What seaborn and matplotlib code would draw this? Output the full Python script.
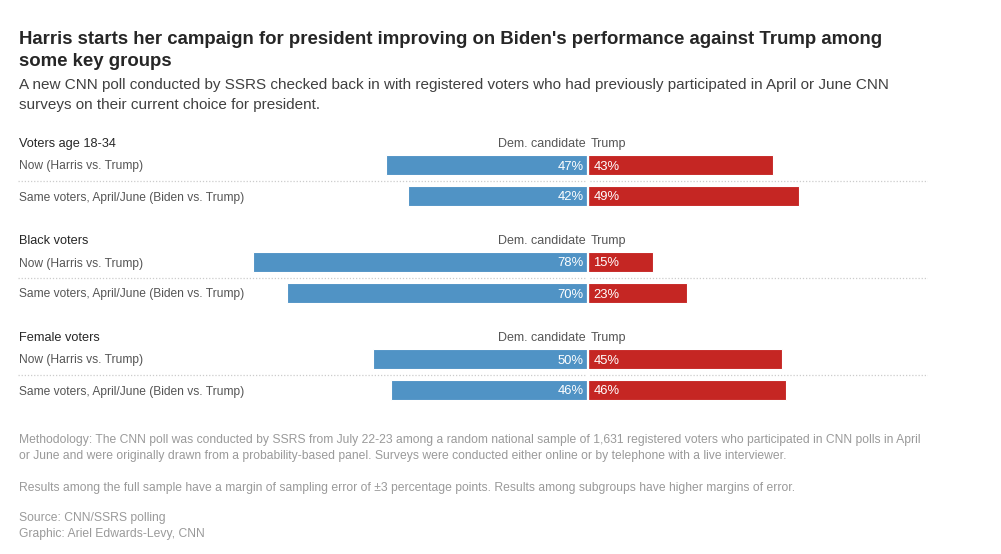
import matplotlib
matplotlib.use("Agg")
import matplotlib.pyplot as plt
import matplotlib.transforms as mtransforms
import seaborn as sns
import pandas as pd
import numpy as np

# data
groups = ["Voters age 18-34", "Black voters", "Female voters"]
rows = ["Now (Harris vs. Trump)", "Same voters, April/June (Biden vs. Trump)"]
dem = [[47, 42], [78, 70], [50, 46]]
trump = [[43, 49], [15, 23], [45, 46]]

BLUE = "#5093c5"
RED = "#c52623"
DARK = "#262626"
MID = "#555555"
LIGHT = "#9a9a9a"

sns.set_theme(style="white")
plt.rcParams["font.family"] = ["Liberation Sans", "DejaVu Sans"]

W, H = 1001, 554
fig = plt.figure(figsize=(W / 100, H / 100), dpi=100)

def fx(px):
    return px / W

def fy(py):
    return 1 - py / H

# axes placement in pixels
ax_l, ax_r, ax_t, ax_b = 18, 928, 130, 402
ax = fig.add_axes([fx(ax_l), fy(ax_b), fx(ax_r - ax_l), (ax_b - ax_t) / H])

center_px = 588.5
ppp = 4.30  # pixels per percent
ax.set_xlim(-(center_px - ax_l) / ppp, (ax_r - center_px) / ppp)
row_px = 31.0
group_gap = 97.0 / row_px
ax.set_ylim((ax_b - 165) / row_px, (ax_t - 165) / row_px)

recs = []
for gi, g in enumerate(groups):
    for ri, r in enumerate(rows):
        pos = gi * group_gap + ri
        recs.append(dict(pos=pos, value=-dem[gi][ri], side="dem"))
        recs.append(dict(pos=pos, value=trump[gi][ri], side="trump"))
df = pd.DataFrame(recs)

sns.barplot(data=df, x="value", y="pos", hue="side", orient="y",
            native_scale=True, palette={"dem": BLUE, "trump": RED},
            width=0.66, dodge=False, legend=False, ax=ax,
            edgecolor="white", linewidth=0.8, saturation=1)

ax.axvline(0, color="white", lw=1.6, zorder=5)

VA = "center_baseline"
trans = mtransforms.blended_transform_factory(ax.transAxes, ax.transData)
for gi, g in enumerate(groups):
    base = gi * group_gap
    ax.text(0.001, base - 0.74, g, transform=trans, ha="left", va=VA,
            fontsize=9.2, color=DARK, fontweight="medium")
    ax.text(-0.6, base - 0.74, "Dem. candidate", ha="right", va=VA,
            fontsize=9, color=MID)
    ax.text(0.6, base - 0.74, "Trump", ha="left", va=VA,
            fontsize=9, color=MID)
    for ri, r in enumerate(rows):
        pos = base + ri
        ax.text(0.001, pos, r, transform=trans, ha="left", va=VA,
                fontsize=8.65, color=MID)
        ax.text(-1.2, pos, f"{dem[gi][ri]}%", ha="right", va=VA,
                fontsize=9.4, color="white", zorder=6)
        ax.text(1.1, pos, f"{trump[gi][ri]}%", ha="left", va=VA,
                fontsize=9.4, color="white", zorder=6)
    ax.plot([0, 1], [base + 0.5, base + 0.5], transform=trans,
            color="#cccccc", lw=0.9, ls=(0, (1, 1.5)), zorder=0)

ax.set_axis_off()

# titles
fig.text(fx(19), fy(37), "Harris starts her campaign for president improving on Biden's performance against Trump among",
         fontsize=13.45, fontweight="bold", color=DARK, va=VA, ha="left")
fig.text(fx(19), fy(60), "some key groups",
         fontsize=13.45, fontweight="bold", color=DARK, va=VA, ha="left")
fig.text(fx(19), fy(83), "A new CNN poll conducted by SSRS checked back in with registered voters who had previously participated in April or June CNN",
         fontsize=10.95, color="#404040", va=VA, ha="left")
fig.text(fx(19), fy(103), "surveys on their current choice for president.",
         fontsize=10.95, color="#404040", va=VA, ha="left")

foot = [
    (439, "Methodology: The CNN poll was conducted by SSRS from July 22-23 among a random national sample of 1,631 registered voters who participated in CNN polls in April"),
    (454, "or June and were originally drawn from a probability-based panel. Surveys were conducted either online or by telephone with a live interviewer."),
    (487, "Results among the full sample have a margin of sampling error of \u00b13 percentage points. Results among subgroups have higher margins of error."),
    (517, "Source: CNN/SSRS polling"),
    (533, "Graphic: Ariel Edwards-Levy, CNN"),
]
for py, t in foot:
    fig.text(fx(19), fy(py), t, fontsize=8.75, color=LIGHT, va=VA, ha="left")

fig.savefig("out.png", dpi=100, facecolor="white")
